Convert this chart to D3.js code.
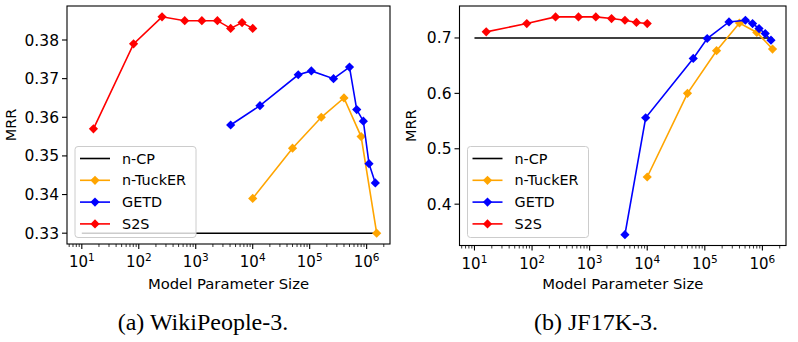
<!DOCTYPE html>
<html lang="en">
<head>
<meta charset="utf-8">
<title>MRR vs model parameter size</title>
<script src="https://cdn.jsdelivr.net/npm/d3@7"></script>
<style>
  body { margin: 0; background: #fff; }
  svg { display: block; }
</style>
</head>
<body>
<script>
// ---- data ----
var seriesNames = ["n-CP", "n-TuckER", "GETD", "S2S"];
var seriesColors = ["#000000", "#ffa500", "#0000ff", "#ff0000"];

var cpX = [10, 1.5e6];
var tuckerX = [1e4, 5e4, 1.6e5, 4e5, 8e5, 1.5e6];
var s2sX = [16, 81, 256, 640, 1280, 2400, 4100, 6500, 1e4];
var getdXWiki = [4100, 13400, 63000, 107000, 262000, 500000, 670000, 875000, 1.1e6, 1.42e6];
var getdXJf = [4100, 9400, 63000, 110000, 263000, 507000, 675000, 875000, 1.12e6, 1.41e6];

// WikiPeople-3
var wikiCP = [0.33, 0.33];
var wikiTucker = [0.339, 0.352, 0.360, 0.365, 0.355, 0.330];
var wikiGETD = [0.358, 0.363, 0.371, 0.372, 0.370, 0.373, 0.362, 0.359, 0.348, 0.343];
var wikiS2S = [0.357, 0.379, 0.386, 0.385, 0.385, 0.385, 0.383, 0.3845, 0.383];
var wikiYTicks = [0.33, 0.34, 0.35, 0.36, 0.37, 0.38];

// JF17K-3
var jfCP = [0.70, 0.70];
var jfTucker = [0.449, 0.600, 0.677, 0.727, 0.710, 0.680];
var jfGETD = [0.345, 0.556, 0.663, 0.699, 0.729, 0.732, 0.726, 0.717, 0.708, 0.696];
var jfS2S = [0.711, 0.726, 0.738, 0.738, 0.738, 0.735, 0.732, 0.728, 0.726];
var jfYTicks = [0.4, 0.5, 0.6, 0.7];

var xTickPowers = [1, 2, 3, 4, 5, 6];
var captions = ["(a) WikiPeople-3.", "(b) JF17K-3."];

var svg = d3.select("body").append("svg")
  .attr("width", 798).attr("height", 342);

var sansFont = "DejaVu Sans, sans-serif";

function zip(xs, ys) {
  return xs.map(function(x, i) { return [x, ys[i]]; });
}

function diamond(r) {
  return "M0," + (-r) + "L" + r + ",0L0," + r + "L" + (-r) + ",0Z";
}

function drawPanel(p) {
  var x = d3.scaleLog().domain([Math.pow(10, 0.74), Math.pow(10, 6.41)]).range([p.left, p.right]);
  var y = d3.scaleLinear().domain(p.yDomain).range([p.bottom, p.top]);
  var g = svg.append("g");

  var series = [
    { name: seriesNames[0], color: seriesColors[0], pts: zip(cpX, p.cp), marker: false },
    { name: seriesNames[1], color: seriesColors[1], pts: zip(tuckerX, p.tucker), marker: true },
    { name: seriesNames[2], color: seriesColors[2], pts: zip(p.getdX, p.getd), marker: true },
    { name: seriesNames[3], color: seriesColors[3], pts: zip(s2sX, p.s2s), marker: true }
  ];

  var line = d3.line().x(function(d) { return x(d[0]); }).y(function(d) { return y(d[1]); });

  series.forEach(function(s) {
    g.append("path").attr("d", line(s.pts))
      .attr("fill", "none").attr("stroke", s.color).attr("stroke-width", 1.6);
    if (s.marker) {
      g.selectAll(null).data(s.pts).enter().append("path")
        .attr("d", diamond(4.6))
        .attr("transform", function(d) { return "translate(" + x(d[0]) + "," + y(d[1]) + ")"; })
        .attr("fill", s.color);
    }
  });

  // frame
  g.append("rect").attr("x", p.left).attr("y", p.top)
    .attr("width", p.right - p.left).attr("height", p.bottom - p.top)
    .attr("fill", "none").attr("stroke", "#000").attr("stroke-width", 1.1);

  // x axis major ticks with 10^n labels
  xTickPowers.forEach(function(k) {
    var xp = x(Math.pow(10, k));
    g.append("line").attr("x1", xp).attr("x2", xp).attr("y1", p.bottom).attr("y2", p.bottom + 5)
      .attr("stroke", "#000").attr("stroke-width", 1.1);
    var t = g.append("text").attr("x", xp).attr("y", p.bottom + 23)
      .attr("text-anchor", "middle").attr("font-family", sansFont).attr("font-size", 15).attr("fill", "#000");
    t.append("tspan").text("10");
    t.append("tspan").attr("dy", -6).attr("font-size", 10.5).text(k);
  });
  // minor ticks
  var lo = x.domain()[0], hi = x.domain()[1];
  for (var k = 0; k <= 6; k++) {
    for (var m = 2; m <= 9; m++) {
      var v = m * Math.pow(10, k);
      if (v < lo || v > hi) continue;
      g.append("line").attr("x1", x(v)).attr("x2", x(v)).attr("y1", p.bottom).attr("y2", p.bottom + 3)
        .attr("stroke", "#000").attr("stroke-width", 0.8);
    }
  }

  // y axis
  p.yTicks.forEach(function(v) {
    var yp = y(v);
    g.append("line").attr("x1", p.left - 5).attr("x2", p.left).attr("y1", yp).attr("y2", yp)
      .attr("stroke", "#000").attr("stroke-width", 1.1);
    g.append("text").attr("x", p.left - 8).attr("y", yp + 5.5)
      .attr("text-anchor", "end").attr("font-family", sansFont).attr("font-size", 15.5)
      .text(d3.format(p.yFmt)(v));
  });

  g.append("text").attr("transform", "translate(" + p.yLabelX + "," + ((p.top + p.bottom) / 2) + ") rotate(-90)")
    .attr("text-anchor", "middle").attr("font-family", sansFont).attr("font-size", 14.5).text("MRR");
  g.append("text").attr("x", (p.left + p.right) / 2).attr("y", 289)
    .attr("text-anchor", "middle").attr("font-family", sansFont).attr("font-size", 14.8)
    .text("Model Parameter Size");

  // legend
  var lx = p.left + 8, ly = 146.5;
  g.append("rect").attr("x", lx).attr("y", ly).attr("width", 121).attr("height", 91)
    .attr("rx", 3).attr("fill", "#fff").attr("fill-opacity", 0.8)
    .attr("stroke", "#cccccc").attr("stroke-width", 1);
  series.forEach(function(s, i) {
    var yy = ly + 12 + i * 21.8;
    g.append("line").attr("x1", lx + 5).attr("x2", lx + 35).attr("y1", yy).attr("y2", yy)
      .attr("stroke", s.color).attr("stroke-width", 1.6);
    if (s.marker) {
      g.append("path").attr("d", diamond(4.6)).attr("transform", "translate(" + (lx + 20) + "," + yy + ")")
        .attr("fill", s.color);
    }
    g.append("text").attr("x", lx + 47).attr("y", yy + 5)
      .attr("font-family", sansFont).attr("font-size", 14.4).text(s.name);
  });

  svg.append("text").attr("x", p.captionX).attr("y", 330)
    .attr("text-anchor", "middle").attr("font-family", "Liberation Serif, serif").attr("font-size", 24)
    .text(p.caption);
}

drawPanel({
  left: 67, right: 390, top: 6, bottom: 244,
  yDomain: [0.3272, 0.3888], yTicks: wikiYTicks, yFmt: ".2f", yLabelX: 16,
  cp: wikiCP, tucker: wikiTucker, getdX: getdXWiki, getd: wikiGETD, s2s: wikiS2S,
  caption: captions[0], captionX: 203
});

drawPanel({
  left: 459.5, right: 786, top: 6, bottom: 245.5,
  yDomain: [0.3254, 0.7577], yTicks: jfYTicks, yFmt: ".1f", yLabelX: 416,
  cp: jfCP, tucker: jfTucker, getdX: getdXJf, getd: jfGETD, s2s: jfS2S,
  caption: captions[1], captionX: 596
});
</script>
</body>
</html>
